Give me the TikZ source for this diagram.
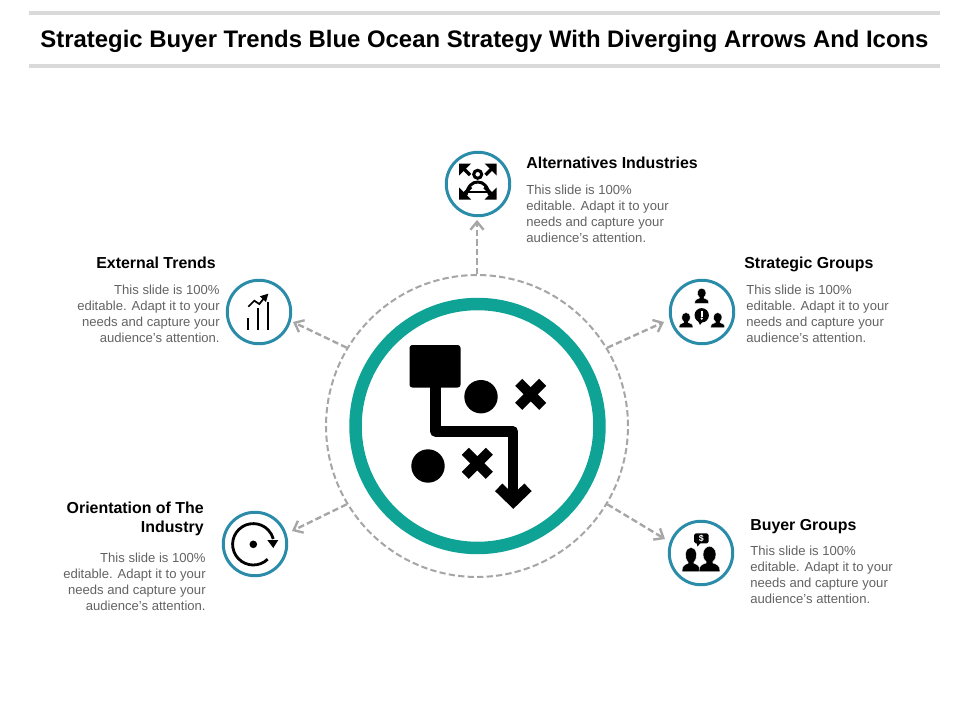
\documentclass[tikz,border=0pt]{standalone}
\usepackage{fontspec}
\setmainfont{Liberation Sans}
\usetikzlibrary{arrows.meta}
\definecolor{tealring}{HTML}{0FA396}
\definecolor{bluering}{HTML}{2A8CA8}
\definecolor{linegray}{HTML}{A6A6A6}
\definecolor{bodygray}{HTML}{636363}
\definecolor{bargray}{HTML}{D9D9D9}
\newcommand{\bodytext}{This slide is 100\%\\editable. Adapt it to your\\needs and capture your\\audience's attention.}
\tikzset{
    person/.pic={
        \filldraw[fill=black,draw=white,line width=.2pt] (-1,0) .. controls (-1,-.4) and (-.75,-.45) .. (-.32,-.55) -- (-.32,-.64) .. controls (-.78,-.85) and (-.7,-1.6) .. (0,-1.6) .. controls (.7,-1.6) and (.78,-.85) .. (.32,-.64) -- (.32,-.55) .. controls (.75,-.45) and (1,-.4) .. (1,0) -- cycle;
    }
}
\begin{document}
\begin{tikzpicture}[
    x=0.02cm,
    y=-0.02cm,
    bar/.style={draw=none,fill=bargray,minimum width=18.22cm,minimum height=0.09cm,inner sep=0},
    title/.style={font=\fontsize{13.6}{15}\selectfont\bfseries,inner sep=0},
    hub/.style={circle,draw=tealring,line width=7.1pt,minimum size=4.88cm,inner sep=0},
    ring/.style={circle,draw=linegray,dash pattern=on 3.6pt off 1.8pt,line width=1.15pt,minimum size=6.04cm,inner sep=0},
    icon/.style={circle,draw=bluering,line width=1.7pt,minimum size=1.27cm,inner sep=0},
    link/.style={draw=linegray,dash pattern=on 3.6pt off 1.8pt,line width=1.35pt,-{Straight Barb[length=4.5pt,width=7.5pt,line width=1.35pt]}},
    headl/.style={font=\fontsize{9.05}{10.8}\selectfont\bfseries,inner sep=0,anchor=west,align=left},
    headr/.style={font=\fontsize{9.05}{10.8}\selectfont\bfseries,inner sep=0,anchor=east,align=right},
    bodyl/.style={font=\fontsize{7.45}{9.07}\selectfont,text=bodygray,inner sep=0,anchor=west,align=left},
    bodyr/.style={font=\fontsize{7.45}{9.07}\selectfont,text=bodygray,inner sep=0,anchor=east,align=right},
    bold/.style={line width=#1,draw=black}
]
    \useasboundingbox (0,0) rectangle (960,720);

    % Define header
    \node[bar] (topbar) at (484.5,13) {};
    \node[bar] (lowbar) at (484.5,66) {};
    \node[title] (head) at (484.5,41) {Strategic Buyer Trends Blue Ocean Strategy With Diverging Arrows And Icons};

    % Define nodes
    \node[ring] (dash) at (477,426) {};
    \node[hub] (core) at (477.5,426) {};
    \node[icon] (alt) at (478,184) {};
    \node[icon] (ext) at (259,312) {};
    \node[icon] (stg) at (702,312) {};
    \node[icon] (ori) at (255,544) {};
    \node[icon] (buy) at (701,553) {};

    % Define arrow ends
    \coordinate (alttip) at (477,220);
    \coordinate (exttip) at (293,322);
    \coordinate (stgtip) at (664,322);
    \coordinate (oritip) at (292,531);
    \coordinate (buytip) at (665,539);

    % Draw arrows
    \draw[link] (dash.90) -- (alttip);
    \draw[link] (dash.149) -- (exttip);
    \draw[link] (dash.31) -- (stgtip);
    \draw[link] (dash.211) -- (oritip);
    \draw[link] (dash.329) -- (buytip);

    % Labels
    \node[headl] (althead) at (526,163) {Alternatives Industries};
    \node[bodyl] (altbody) at (526,214) {\bodytext};
    \node[headr] (exthead) at (216,263) {External Trends};
    \node[bodyr] (extbody) at (220,314) {\bodytext};
    \node[headl] (stghead) at (744,264.5) {Strategic Groups};
    \node[bodyl] (stgbody) at (746,314) {\bodytext};
    \node[headr] (orihead) at (204,519) {Orientation of The\\Industry};
    \node[bodyr] (oribody) at (206,582) {\bodytext};
    \node[headl] (buyhead) at (750,526.5) {Buyer Groups};
    \node[bodyl] (buybody) at (750,575) {\bodytext};

    % Centre icon
    \fill[rounded corners=1.6pt] (409.5,345) rectangle (460.5,387.5);
    \draw[bold=6pt,line join=round] (435.4,385) -- (435.4,431.4) -- (513,431.4) -- (513,498);
    \draw[bold=6pt] (498.7,487.3) -- (513.3,501.5) -- (528,487.3);
    \fill (481,396.7) circle (16.7);
    \fill (428,466) circle (16.7);
    \draw[bold=5.7pt] (518.7,382.3) -- (542.7,406.3) (518.7,406.3) -- (542.7,382.3);
    \draw[bold=5.7pt] (465.3,451.3) -- (489.3,475.3) (465.3,475.3) -- (489.3,451.3);

    % Alternatives icon
    \fill (459,163.5) -- (471,163.5) -- (459,175.5) -- cycle;
    \fill (496.5,163.5) -- (484.5,163.5) -- (496.5,175.5) -- cycle;
    \fill (459,199.5) -- (471,199.5) -- (459,187.5) -- cycle;
    \fill (496.5,199.5) -- (484.5,199.5) -- (496.5,187.5) -- cycle;
    \draw[bold=2pt] (463,168) -- (470,175) (492.5,168) -- (485.5,175);
    \draw[bold=2pt] (463,195) -- (471,187) (492.5,195) -- (484.5,187);
    \draw[bold=1.7pt] (477.7,174.3) circle (4);
    \draw[bold=1.7pt] (466,195) .. controls (468,186) and (472,182) .. (477.7,182) .. controls (483.5,182) and (487.5,186) .. (489.5,195);
    \draw[bold=1.7pt] (468,192) -- (487.5,192);

    % External icon
    \draw[bold=1.3pt] (248,329.5) -- (248,318.3);
    \draw[bold=1.3pt] (258,329.5) -- (258,308.3);
    \draw[bold=1.3pt] (268,329.5) -- (268,302.3);
    \draw[bold=1pt] (248.3,306.7) -- (254.3,300.7) -- (259.3,304) -- (265,297);
    \fill (268.3,293.7) -- (259.8,296.3) -- (266,302) -- cycle;

    % Strategic icon
    \pic[xscale=7,yscale=9.4] (stgtop) at (701.7,303.3) {person};
    \pic[xscale=7,yscale=9.4] (stglft) at (686,327.7) {person};
    \pic[xscale=7,yscale=9.4] (stgrgt) at (717.7,327.7) {person};
    \fill (701.7,315.3) circle (7.2);
    \fill (698,321) -- (700,325) -- (703,321) -- cycle;
    \fill[white] (700.6,310.5) rectangle (702.8,316.5);
    \fill[white] (701.7,318.6) circle (1.2);

    % Orientation icon
    \draw[bold=1.6pt] (253.3,544.3) ++(-46:0.414cm) arc[start angle=-46,end angle=-345,radius=0.414cm];
    \fill (267.3,540) -- (278.3,540) -- (273.3,548) -- cycle;
    \fill (253.3,544.3) circle (3.8);

    % Buyer icon
    \fill[rounded corners=1pt] (694,533.3) rectangle (708.7,543.3);
    \fill (696.5,543) -- (697.5,546.5) -- (700.5,543) -- cycle;
    \node[font=\fontsize{5}{5}\selectfont\bfseries,text=white,inner sep=0] (dollar) at (701.3,538.5) {\$};
    \pic[xscale=9,yscale=15.2] (buylft) at (691,571.7) {person};
    \pic[xscale=10.5,yscale=15.8] (buyrgt) at (709.5,571.7) {person};
\end{tikzpicture}
\end{document}
